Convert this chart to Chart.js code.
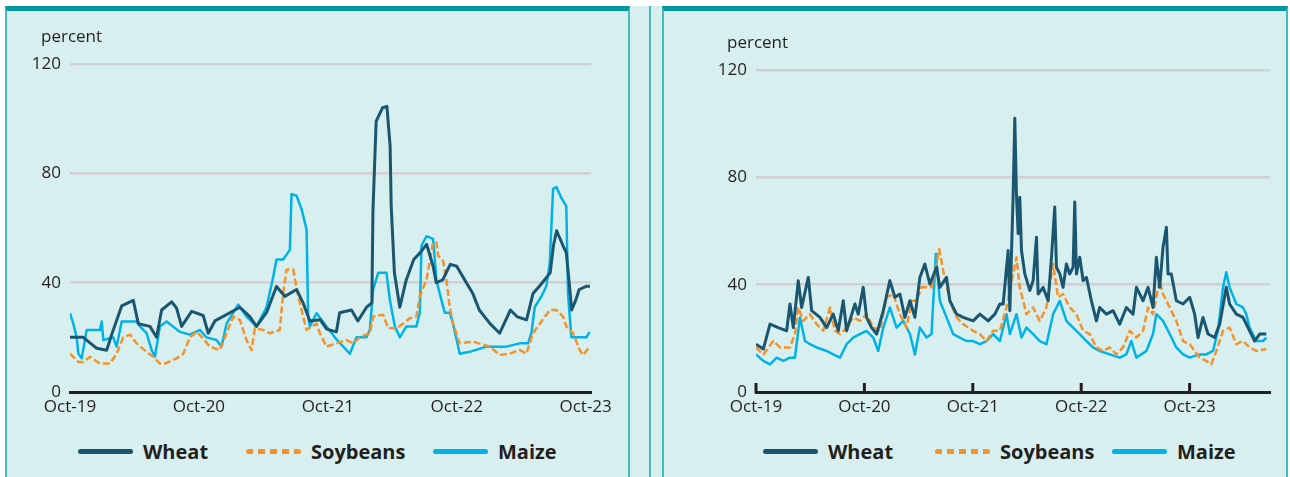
<!DOCTYPE html>
<html>
<head>
<meta charset="utf-8">
<script src="https://cdn.jsdelivr.net/npm/chart.js@4.4.1/dist/chart.umd.min.js"></script>
<style>
body { margin:0; width:1290px; height:477px; background:#fff; overflow:hidden; position:relative;
       font-family:'Open Sans', sans-serif; color:#231f20; }
.panel { position:absolute; top:6px; height:471px; background:#d8efef; box-sizing:border-box;
         border-top:5px solid #00989c; border-left:2px solid #45babe; border-right:2px solid #45babe; }
#p1 { left:5px; width:625px; }
#p2 { left:662px; width:626px; }
#gap { position:absolute; left:630px; top:6px; width:32px; height:471px; background:#d8efef; }
#gap div { position:absolute; left:19px; top:0; width:2px; height:100%; background:#45babe; }
canvas { position:absolute; left:0; top:0; }
.unit { position:absolute; font-size:17px; line-height:20px; }
.item { position:absolute; display:flex; align-items:center; height:24px; font-weight:700; font-size:20px; white-space:nowrap; }
.sw { width:55px; height:5px; border-radius:3px; margin-right:10px; }
</style>
</head>
<body>
<div id="p1" class="panel">
  <canvas id="c1" width="620" height="420"></canvas>
  <div class="unit" style="left:34px; top:15px;">percent</div>
  <div class="item" style="left:71px; top:428px;"><div class="sw" style="background:#1b5670"></div>Wheat</div>
  <div class="item" style="left:239px; top:428px;"><div class="sw" style="background:repeating-linear-gradient(90deg,#f5922a 0 7px,transparent 7px 12px)"></div>Soybeans</div>
  <div class="item" style="left:426px; top:428px;"><div class="sw" style="background:#00b2e6"></div>Maize</div>
</div>
<div id="gap"><div></div></div>
<div id="p2" class="panel">
  <canvas id="c2" width="620" height="420"></canvas>
  <div class="unit" style="left:63px; top:21px;">percent</div>
  <div class="item" style="left:99px; top:428px;"><div class="sw" style="background:#1b5670"></div>Wheat</div>
  <div class="item" style="left:271px; top:428px;"><div class="sw" style="background:repeating-linear-gradient(90deg,#f5922a 0 7px,transparent 7px 12px)"></div>Soybeans</div>
  <div class="item" style="left:448px; top:428px;"><div class="sw" style="background:#00b2e6"></div>Maize</div>
</div>
<script>
// months counted from Oct-19
const tickMonths = [0, 12, 24, 36, 48];
const tickLabels = ['Oct-19', 'Oct-20', 'Oct-21', 'Oct-22', 'Oct-23'];
const yTicks = [0, 40, 80, 120];

// left panel
const wheatL_x = [0,1.24,1.86,2.48,3.41,3.88,4.81,5.89,6.36,7.44,8.06,8.53,9.46,9.92,10.39,11.32,12.4,12.87,13.49,14.88,15.81,16.74,17.36,18.29,19.22,20.0,21.09,21.71,22.33,23.3,23.9,24.8,25.1,26.2,26.8,27.6,28.1,28.2,28.5,29.1,29.5,29.8,29.9,30.2,30.7,31.3,32.0,32.6,33.2,33.8,34.1,34.7,35.4,36.0,36.9,37.5,38.1,39.1,40.0,41.0,41.6,42.5,43.1,43.7,44.7,45.0,45.3,45.9,46.2,46.5,46.7,47.1,47.4,48.1,48.4];
const wheatL_y = [20,20,18,16,15.3,21,31.5,33.5,25,24,20,30,33,30.7,24,29.5,28,21.5,26,29,31,27.6,24,29,38.6,35,37.5,32.5,26,26.4,23,22,29,30,26,31,32.6,66,99,104,104.5,90,68,43.6,31,41,48.5,51,54,46,40,41,46.7,46,40,36,30,25,21.5,30,27.6,26.4,36,38.7,43.6,53.5,59,53.5,51,38.7,30,33.8,37.5,38.7,38.7];
const soyL_x = [0,0.78,1.24,1.86,2.79,3.72,4.34,4.96,5.58,6.2,7.13,7.75,8.37,8.84,9.92,10.54,11.16,11.78,12.4,13.02,13.95,14.57,15.19,15.81,16.43,16.9,17.21,17.98,18.6,19.53,19.84,20.16,20.78,21.24,21.71,22.02,22.95,23.26,23.88,24.81,25.74,26.36,26.98,27.91,28.22,29.15,29.62,30.39,31.01,31.63,32.25,32.56,33.18,33.8,34.11,34.27,34.73,35.04,35.35,35.66,36.28,37.52,39.07,40.0,40.93,41.86,42.48,43.1,43.73,44.66,45.28,45.9,46.2,46.83,47.45,47.76,48.38];
const soyL_y = [14,11,11,12.9,10.4,10.4,14,20,21,17.8,14.7,12.9,10.4,10.4,12.3,14,20,22,19.6,16.6,15.3,21.5,27.6,26.4,19,15.3,23.3,22.7,21.5,22.7,36,44.8,44.8,35,27.6,22.7,25,21.5,16.6,17.8,19,17.8,20,21.5,27.6,28.3,23.3,23.3,25,27,27.6,35,41,54.7,54.7,49.8,48,41,31,25,17.8,18.4,16.6,13.5,14,15.4,14,21.5,25,30,30,27.6,24,21.5,15.4,13.5,16.6];
const maizeL_x = [0,0.31,0.62,0.78,1.09,1.55,2.79,2.95,3.1,4.03,4.34,4.81,6.2,6.51,7.13,7.6,7.91,8.37,8.99,10.23,11.16,12.09,12.71,13.64,14.11,14.57,15.66,16.43,17.36,18.29,18.91,19.22,19.84,20.47,20.62,21.09,21.55,22.02,22.17,22.33,22.95,23.88,24.65,26.05,26.67,27.6,27.91,28.22,28.69,29.46,29.77,30.24,30.7,31.32,32.25,32.56,32.72,33.18,33.8,34.11,34.42,34.89,35.35,35.66,36.28,37.21,38.76,40.62,41.86,42.64,42.95,43.26,43.88,44.34,44.66,44.97,45.28,45.74,46.2,46.36,46.67,47.45,48.07,48.38];
const maizeL_y = [28.8,25,20,14,12.3,22.7,22.7,25.8,19,20,16.6,25.8,25.8,24,21.5,15.3,12.9,24,25.8,22,21,22.7,20,19,16.6,25,32,27.6,24,31,42,48.5,48.5,52,72.4,71.8,67,59.5,27.6,24,28.8,24,20,14,20,20,22.7,37.5,43.6,43.6,33.8,24,20,24,24,29,53.5,57,56,41,36,29,29,25,14,14.7,16.6,16.6,17.8,17.8,21.5,31,35,38.7,47.3,74.3,75,71,68,36,20,20,20,22];

// right panel
const wheatR_x = [0,0.81,1.55,2.47,3.39,3.76,4.13,4.68,5.05,5.79,6.16,7.08,7.82,8.55,9.11,9.66,10.03,10.95,11.32,11.87,12.24,12.79,13.35,14.09,14.82,15.38,15.93,16.48,17.04,17.59,18.14,18.69,19.25,19.99,20.35,21.09,21.46,22.2,22.94,24.04,24.78,25.7,26.44,27.0,27.36,27.91,28.1,28.46,28.65,28.83,29.02,29.2,29.39,29.76,30.31,30.68,31.05,31.23,31.78,32.34,32.71,33.07,33.26,33.63,34.0,34.36,34.73,35.1,35.29,35.47,35.84,36.21,36.58,37.13,37.68,38.05,38.79,39.53,40.26,41.0,41.74,42.11,42.85,43.4,43.95,44.32,44.69,45.06,45.43,45.61,45.98,46.53,47.27,48.01,48.56,48.93,49.48,50.04,50.77,51.33,52.06,52.43,53.17,53.91,54.64,55.2,55.75,56.49];
const wheatR_y = [17.8,16,25.3,24,22.8,32.8,24,41.5,31.5,42.7,30.3,27.8,24,29,22.8,34,22.8,32.8,29,39,27.8,24,21.6,30.3,41.5,35.3,36.5,27.8,34,27.8,42.7,47.7,40.2,46.5,39,42.7,34,29,27.8,26.5,29,26.5,29,32.8,32.8,52.7,30.3,72.6,102,73.9,59,72.6,52.7,44,37.8,41.5,57.7,36.5,39,34,50.2,68.9,46.5,44,39,47.7,44,46.5,70.8,44,50.2,41.5,42.7,34,26.5,31.5,29,30.3,25.3,31.5,29,39,34,39,31.5,50.2,39,54,61.4,44,44,34,32.8,35.3,29,20.3,27.8,21.6,20.3,25.3,39,32.8,29,27.8,22.8,19,21.6,21.6];
const soyR_x = [0,0.81,1.92,2.65,3.76,4.31,4.68,5.24,5.97,6.71,7.45,8.19,8.74,9.29,10.03,10.77,11.5,12.24,12.98,13.72,14.45,15.19,15.93,16.67,17.22,17.77,18.33,18.88,19.43,19.99,20.28,20.72,21.46,22.2,22.94,24.04,24.78,25.52,26.25,27.0,27.73,28.46,28.83,29.2,29.94,30.68,31.41,32.15,32.89,33.44,34.0,34.73,35.47,36.21,36.95,37.68,38.42,39.16,39.9,40.63,41.37,42.11,42.85,43.4,43.95,44.69,45.06,45.8,46.53,47.27,48.01,49.11,49.85,50.4,50.96,51.7,52.43,53.17,53.91,54.64,55.38,56.49];
const soyR_y = [16.6,14,19,16.6,16.6,21.6,31.5,26.5,29,25.3,22.8,31.5,22.8,21.6,24,27.8,26.5,29,24,22.8,35.3,36.5,29,24,34,34,39,39,39,47.7,53.3,45.2,34,27.8,25.3,22.8,21.6,19,22.8,22.8,31.5,44,50.2,39,29,31.5,26.5,31.5,47.7,35.3,36.5,31.5,29,22.8,21.6,16.6,15.3,16.6,14,16.6,22.8,20.3,22.8,31.5,29,41.5,36.5,31.5,26.5,19,17.8,12.8,11.6,10.3,15.3,22.8,24,17.8,19,16.6,15.3,16];
const maizeR_x = [0,0.81,1.55,2.29,3.02,3.76,4.31,4.87,5.42,5.97,6.71,7.82,8.55,9.29,10.03,10.77,11.5,12.24,12.98,13.53,14.09,14.82,15.56,16.3,17.04,17.59,18.14,18.88,19.43,19.91,20.35,21.09,21.83,22.57,23.3,24.04,24.78,25.52,26.25,27.0,27.73,28.1,28.83,29.39,29.94,30.68,31.41,32.15,32.89,33.63,34.36,35.1,35.84,36.58,37.31,38.05,39.16,40.26,41.0,41.55,42.11,43.21,43.95,44.32,45.06,45.8,46.53,47.27,48.01,49.11,49.85,50.59,51.14,51.7,52.06,52.43,53.17,53.91,54.28,54.64,55.38,56.12,56.49];
const maizeR_y = [14,11.6,10.3,12.8,11.6,12.8,12.8,27.8,19,17.8,16.6,15.3,14,12.8,17.8,20.3,21.6,22.8,20.3,15.3,24,31.5,24,26.5,21.6,14,24,20.3,21.6,51.5,34,27.8,21.6,20.3,19,19,17.8,19,21.6,19,29,21.6,29,20.3,24,21.6,19,17.8,29,34,26.5,24,21.6,19,16.6,15.3,14,12.8,14,19,12.8,15.3,21.6,29,26.5,21.6,16.6,14,12.8,14,14,15.3,22.8,39,44.6,39,32.8,31.5,29,24,19,19,20.3];

const colWheat = '#1b5670';
const colSoy = '#f5922a';
const colMaize = '#00b2e6';
const ink = '#231f20';

function pts(xs, ys) {
    return xs.map((x, i) => ({ x: x, y: ys[i] }));
}

// small upward tick marks on the time axis (right panel)
const upTicks = {
    id: 'upTicks',
    afterDraw(chart) {
        const sx = chart.scales.x;
        const ctx = chart.ctx;
        ctx.save();
        ctx.strokeStyle = ink;
        ctx.lineWidth = 3;
        sx.ticks.forEach(t => {
            const px = sx.getPixelForValue(t.value);
            ctx.beginPath();
            ctx.moveTo(px, sx.top + 1);
            ctx.lineTo(px, sx.top - 9);
            ctx.stroke();
        });
        ctx.restore();
    }
};

function makeChart(id, wheat, soy, maize, o) {
    return new Chart(document.getElementById(id), {
        type: 'line',
        data: {
            datasets: [
                { label: 'Wheat', data: wheat, borderColor: colWheat, borderWidth: 3 },
                { label: 'Soybeans', data: soy, borderColor: colSoy, borderWidth: 2.5, borderDash: [7, 3] },
                { label: 'Maize', data: maize, borderColor: colMaize, borderWidth: 2.5 }
            ]
        },
        options: {
            responsive: false,
            maintainAspectRatio: false,
            animation: false,
            devicePixelRatio: 1,
            layout: { padding: { top: o.top, right: o.right, left: 0, bottom: 0 } },
            elements: {
                point: { radius: 0 },
                line: { tension: 0, borderJoinStyle: 'round', fill: false }
            },
            plugins: { legend: { display: false }, tooltip: { enabled: false } },
            scales: {
                x: {
                    type: 'linear',
                    min: 0,
                    max: o.xMax,
                    afterBuildTicks: s => { s.ticks = tickMonths.map(v => ({ value: v })); },
                    afterFit: s => { s.height = 39; },
                    grid: { display: false, drawTicks: false },
                    border: { display: true, color: ink, width: 3 },
                    ticks: {
                        autoSkip: false,
                        maxRotation: 0,
                        padding: 5,
                        color: ink,
                        font: { family: 'Open Sans', size: 17 },
                        callback: v => tickLabels[tickMonths.indexOf(v)]
                    }
                },
                y: {
                    min: 0,
                    max: 120,
                    afterBuildTicks: s => { s.ticks = yTicks.map(v => ({ value: v })); },
                    afterFit: s => { s.width = o.yw; },
                    border: { display: false },
                    grid: {
                        drawTicks: false,
                        lineWidth: 2.5,
                        color: c => c.tick && c.tick.value === 0 ? 'rgba(0,0,0,0)' : '#d3ced3'
                    },
                    ticks: {
                        padding: 9,
                        color: ink,
                        font: { family: 'Open Sans', size: 17 }
                    }
                }
            }
        },
        plugins: o.upTicks ? [upTicks] : []
    });
}

makeChart('c1', pts(wheatL_x, wheatL_y), pts(soyL_x, soyL_y), pts(maizeL_x, maizeL_y),
    { top: 53, right: 36, yw: 63, xMax: 48.5, upTicks: false });
makeChart('c2', pts(wheatR_x, wheatR_y), pts(soyR_x, soyR_y), pts(maizeR_x, maizeR_y),
    { top: 59, right: 14, yw: 92, xMax: 56.9, upTicks: true });
</script>
</body>
</html>
